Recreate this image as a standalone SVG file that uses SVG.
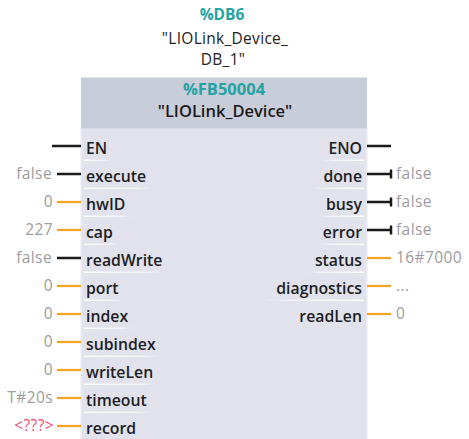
<svg xmlns="http://www.w3.org/2000/svg" width="469" height="439" viewBox="0 0 469 439">
<defs>
<style>
.hdr{font-family:"Open Sans","DejaVu Sans",sans-serif;text-anchor:middle}
.teal{fill:#23a3a3;font-weight:700;font-size:15.5px}
.teal2{fill:#23a3a3;font-weight:700;font-size:16.5px}
.inst{fill:#222;font-size:15.5px;font-weight:500;letter-spacing:0.3px}
.fbn{fill:#1a1a1a;font-size:16.5px;font-weight:600}
.pin{font-family:"Open Sans","DejaVu Sans",sans-serif;font-weight:600;font-size:15.8px;fill:#1d1d24}
.val{font-family:"Open Sans","DejaVu Sans",sans-serif;font-weight:400;font-size:15.5px;letter-spacing:0.4px;fill:#9c9c9c}
.r{text-anchor:end}
.bl{stroke:#1a1a1a;stroke-width:2.5;fill:none}
.or{stroke:#f7a21e;stroke-width:2.2;fill:none}
.sepL{fill:url(#gl)}
.sepR{fill:url(#gr)}
</style>
<linearGradient id="gl" x1="0" y1="0" x2="1" y2="0">
<stop offset="0" stop-color="#ffffff" stop-opacity="0.9"/>
<stop offset="0.75" stop-color="#ffffff" stop-opacity="0.6"/>
<stop offset="1" stop-color="#ffffff" stop-opacity="0"/>
</linearGradient>
<linearGradient id="gr" x1="1" y1="0" x2="0" y2="0">
<stop offset="0" stop-color="#ffffff" stop-opacity="0.9"/>
<stop offset="0.75" stop-color="#ffffff" stop-opacity="0.6"/>
<stop offset="1" stop-color="#ffffff" stop-opacity="0"/>
</linearGradient>
</defs>
<rect width="469" height="439" fill="#ffffff"/>

<g id="instance-db">
<text class="hdr teal" x="222" y="20">%DB6</text>
<text class="hdr inst" x="225" y="43.5">"LIOLink_Device_</text>
<text class="hdr inst" x="223" y="64.8">DB_1"</text>
</g>

<g id="fb-block">
<rect x="81" y="128" width="286" height="320" fill="#e1e2eb" stroke="#eeeef4" stroke-width="1.5"/>
<rect x="81" y="77.5" width="286" height="51" fill="#c9ccd9"/>
<text class="hdr teal2" x="224" y="94.5">%FB50004</text>
<text class="hdr fbn" x="225" y="117">"LIOLink_Device"</text>
</g>

<g id="separators">
<rect class="sepL" x="84" y="159.5" width="26" height="1.5"/>
<rect class="sepL" x="84" y="187.5" width="68" height="1.5"/>
<rect class="sepL" x="84" y="215.5" width="50" height="1.5"/>
<rect class="sepL" x="84" y="243.5" width="36" height="1.5"/>
<rect class="sepL" x="84" y="271.5" width="82" height="1.5"/>
<rect class="sepL" x="84" y="299.5" width="40" height="1.5"/>
<rect class="sepL" x="84" y="327.5" width="50" height="1.5"/>
<rect class="sepL" x="84" y="355.5" width="80" height="1.5"/>
<rect class="sepL" x="84" y="383.5" width="74" height="1.5"/>
<rect class="sepL" x="84" y="411.5" width="70" height="1.5"/>
<rect class="sepR" x="322" y="159.5" width="42" height="1.5"/>
<rect class="sepR" x="312" y="187.5" width="52" height="1.5"/>
<rect class="sepR" x="320" y="215.5" width="44" height="1.5"/>
<rect class="sepR" x="318" y="243.5" width="46" height="1.5"/>
<rect class="sepR" x="306" y="271.5" width="58" height="1.5"/>
<rect class="sepR" x="262" y="299.5" width="102" height="1.5"/>
</g>

<g id="connectors">
<line class="bl" x1="52" y1="146" x2="81" y2="146"/>
<line class="bl" x1="57" y1="174" x2="81" y2="174"/>
<line class="or" x1="57" y1="202" x2="81" y2="202"/>
<line class="or" x1="57" y1="230" x2="81" y2="230"/>
<line class="bl" x1="57" y1="258" x2="81" y2="258"/>
<line class="or" x1="57" y1="286" x2="81" y2="286"/>
<line class="or" x1="57" y1="314" x2="81" y2="314"/>
<line class="or" x1="57" y1="342" x2="81" y2="342"/>
<line class="or" x1="57" y1="370" x2="81" y2="370"/>
<line class="or" x1="57" y1="398" x2="81" y2="398"/>
<line class="or" x1="57" y1="426" x2="81" y2="426"/>
<line class="bl" x1="367" y1="146" x2="391" y2="146"/>
<path class="bl" d="M367 174H391M391 169.5V178.5"/>
<path class="bl" d="M367 202H391M391 197.5V206.5"/>
<path class="bl" d="M367 230H391M391 225.5V234.5"/>
<line class="or" x1="367" y1="258" x2="391" y2="258"/>
<line class="or" x1="367" y1="286" x2="391" y2="286"/>
<line class="or" x1="367" y1="314" x2="391" y2="314"/>
</g>

<g id="inputs">
<text class="pin" x="86" y="153.5">EN</text>
<text class="pin" x="86" y="181.5">execute</text>
<text class="pin" x="86" y="209.5">hwID</text>
<text class="pin" x="86" y="237.5">cap</text>
<text class="pin" x="86" y="265.5">readWrite</text>
<text class="pin" x="86" y="293.5">port</text>
<text class="pin" x="86" y="321.5">index</text>
<text class="pin" x="86" y="349.5">subindex</text>
<text class="pin" x="86" y="377.5">writeLen</text>
<text class="pin" x="86" y="405.5">timeout</text>
<text class="pin" x="86" y="433.5">record</text>
</g>

<g id="input-values">
<text class="val r" x="52" y="179">false</text>
<text class="val r" x="53" y="207">0</text>
<text class="val r" x="53" y="235">227</text>
<text class="val r" x="52" y="263">false</text>
<text class="val r" x="53" y="291">0</text>
<text class="val r" x="53" y="319">0</text>
<text class="val r" x="53" y="347">0</text>
<text class="val r" x="53" y="375">0</text>
<text class="val r" x="53" y="403">T#20s</text>
<text class="val r" x="54" y="431" style="fill:#f0507a">&lt;???&gt;</text>
</g>

<g id="outputs">
<text class="pin r" x="362" y="153.5">ENO</text>
<text class="pin r" x="362" y="181.5">done</text>
<text class="pin r" x="362" y="209.5">busy</text>
<text class="pin r" x="362" y="237.5">error</text>
<text class="pin r" x="362" y="265.5">status</text>
<text class="pin r" x="362" y="293.5">diagnostics</text>
<text class="pin r" x="362" y="321.5">readLen</text>
</g>

<g id="output-values">
<text class="val" x="396" y="179">false</text>
<text class="val" x="396" y="207">false</text>
<text class="val" x="396" y="235">false</text>
<text class="val" x="396" y="263">16#7000</text>
<text class="val" x="396" y="291">...</text>
<text class="val" x="396" y="319">0</text>
</g>
</svg>
